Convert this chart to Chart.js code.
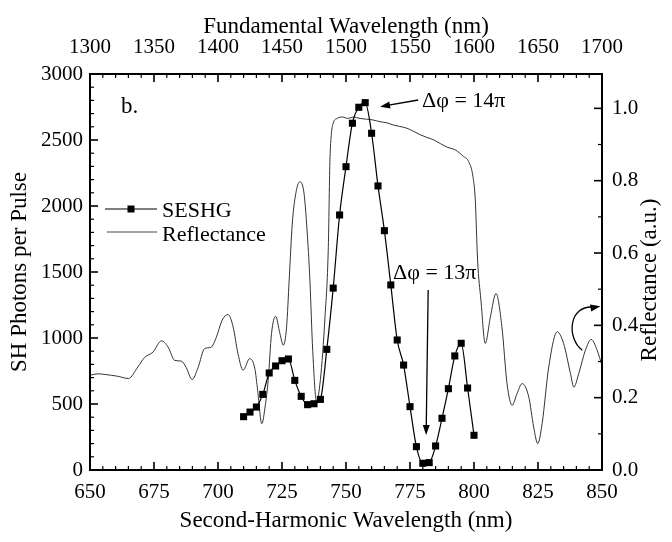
<!DOCTYPE html>
<html>
<head>
<meta charset="utf-8">
<script src="https://cdn.jsdelivr.net/npm/chart.js@4/dist/chart.umd.min.js"></script>
<style>
  html, body { margin: 0; padding: 0; background: #fff; }
  canvas { display: block; }
</style>
</head>
<body>
<canvas id="chart" width="672" height="542"></canvas>
<script>
// SESHG measurement (second-harmonic wavelength in nm, photons per pulse)
const shWavelength = [710, 712.5, 715, 717.5, 720, 722.5, 725, 727.5, 730, 732.5, 735, 737.5, 740,
  742.5, 745, 747.5, 750, 752.5, 755, 757.5, 760, 762.5, 765, 767.5, 770, 772.5, 775, 777.5,
  780, 782.5, 785, 787.5, 790, 792.5, 795, 797.5, 800];
const shPhotons = [404, 439, 477, 573, 735, 788, 828, 841, 679, 558, 495, 502, 535,
  914, 1378, 1932, 2298, 2627, 2748, 2783, 2551, 2152, 1813, 1402, 985, 795, 480, 177,
  51, 56, 182, 392, 616, 864, 960, 621, 263];

// mirror reflectance (a.u.)
const reflWavelength = [650, 653, 656, 661, 665, 668.7, 671.3, 674.6, 677.9, 680.5, 683.1, 685.7,
  687.6, 689.9, 692.2, 694.8, 697.2, 699.4, 701.6, 703.9, 705.9, 707.8, 709.8, 712.4, 714.4,
  715.5, 717.1, 718.5, 719.6, 720.9, 722.5, 724.2, 725.5, 726.8, 727.8, 729, 730.4, 732, 733.6,
  735, 735.9, 737, 738.5, 740, 741.8, 743.1, 743.7, 744.3, 745, 746.5, 748.9, 750.5, 752.9,
  755.5, 758.1, 760.5, 763.3, 766, 768.5, 771, 773.8, 776.5, 779, 781.5, 784.2, 787, 789.4,
  792.7, 795.9, 797.9, 799.6, 800.5, 801.4, 802.7, 804.4, 806.4, 808.6, 810.9, 812.9, 814.9,
  816.8, 818.8, 821.4, 823.3, 824.9, 826.6, 829.2, 832.5, 835, 837.7, 839, 840.9, 843.5,
  845.8, 848.1, 850];
const reflectance = [0.262, 0.266, 0.264, 0.259, 0.253, 0.285, 0.311, 0.326, 0.357, 0.340, 0.303, 0.301,
  0.283, 0.250, 0.283, 0.336, 0.339, 0.368, 0.414, 0.430, 0.396, 0.322, 0.276, 0.308, 0.280,
  0.220, 0.128, 0.180, 0.248, 0.377, 0.425, 0.377, 0.345, 0.396, 0.525, 0.680, 0.765, 0.797, 0.765,
  0.640, 0.525, 0.330, 0.190, 0.250, 0.423, 0.618, 0.850, 0.930, 0.959, 0.972, 0.976, 0.972, 0.976,
  0.972, 0.970, 0.968, 0.963, 0.960, 0.954, 0.950, 0.945, 0.936, 0.927, 0.920, 0.913, 0.902, 0.893,
  0.885, 0.867, 0.853, 0.811, 0.747, 0.580, 0.470, 0.350, 0.423, 0.488, 0.396, 0.239, 0.179,
  0.211, 0.239, 0.202, 0.119, 0.073, 0.128, 0.285, 0.382, 0.350, 0.266, 0.229, 0.266, 0.331,
  0.361, 0.331, 0.289];

const serif = "'Liberation Serif', 'Times New Roman', serif";

function arrow(ctx, x1, y1, x2, y2) {
  const ang = Math.atan2(y2 - y1, x2 - x1);
  ctx.beginPath();
  ctx.moveTo(x1, y1);
  ctx.lineTo(x2 - 6 * Math.cos(ang), y2 - 6 * Math.sin(ang));
  ctx.stroke();
  ctx.beginPath();
  ctx.moveTo(x2, y2);
  ctx.lineTo(x2 - 10 * Math.cos(ang) + 3.5 * Math.sin(ang), y2 - 10 * Math.sin(ang) - 3.5 * Math.cos(ang));
  ctx.lineTo(x2 - 10 * Math.cos(ang) - 3.5 * Math.sin(ang), y2 - 10 * Math.sin(ang) + 3.5 * Math.cos(ang));
  ctx.closePath();
  ctx.fill();
}

// frame with inward major / minor ticks on all four sides
const frameTicks = {
  id: 'frameTicks',
  afterDatasetsDraw(chart) {
    const { ctx, chartArea: a, scales } = chart;
    ctx.save();
    ctx.strokeStyle = '#000';
    const marks = (scale, minor, major, horizontal, edge, dir) => {
      for (let v = scale.min; v <= scale.max + 1e-9; v += minor) {
        const r = v / major;
        const isMajor = Math.abs(r - Math.round(r)) < 1e-6;
        const len = isMajor ? 8 : 4;
        const p = scale.getPixelForValue(v);
        ctx.lineWidth = isMajor ? 1.6 : 1.2;
        ctx.beginPath();
        if (horizontal) { ctx.moveTo(p, edge); ctx.lineTo(p, edge + dir * len); }
        else { ctx.moveTo(edge, p); ctx.lineTo(edge + dir * len, p); }
        ctx.stroke();
      }
    };
    marks(scales.x, 5, 25, true, a.bottom, -1);
    marks(scales.xTop, 10, 50, true, a.top, 1);
    marks(scales.y, 100, 500, false, a.left, 1);
    marks(scales.yR, 0.1, 0.2, false, a.right, -1);
    ctx.lineWidth = 2;
    ctx.strokeRect(a.left, a.top, a.right - a.left, a.bottom - a.top);
    ctx.restore();
  }
};

// panel letter, legend, right axis title and phase annotations
const notes = {
  id: 'notes',
  afterDraw(chart) {
    const { ctx, chartArea: a, scales } = chart;
    const x = scales.x, y = scales.y;
    ctx.save();
    ctx.fillStyle = '#000';
    ctx.strokeStyle = '#000';
    ctx.font = '23px ' + serif;
    ctx.textBaseline = 'alphabetic';
    ctx.fillText('b.', a.left + 31, a.top + 39);

    // right axis title, reading bottom to top like the left one
    ctx.save();
    ctx.font = '23px ' + serif;
    ctx.textAlign = 'center';
    ctx.textBaseline = 'middle';
    ctx.translate(650, (a.top + a.bottom) / 2 + 8);
    ctx.rotate(-Math.PI / 2);
    ctx.fillText('Reflectance (a.u.)', 0, 0);
    ctx.restore();

    // legend
    ctx.font = '22px ' + serif;
    ctx.textBaseline = 'middle';
    ctx.lineWidth = 1.2;
    ctx.beginPath();
    ctx.moveTo(a.left + 15, a.top + 135);
    ctx.lineTo(a.left + 67, a.top + 135);
    ctx.stroke();
    ctx.fillRect(a.left + 37.5, a.top + 131.5, 7, 7);
    ctx.fillText('SESHG', a.left + 72, a.top + 137);
    ctx.strokeStyle = '#444';
    ctx.lineWidth = 1;
    ctx.beginPath();
    ctx.moveTo(a.left + 17, a.top + 158);
    ctx.lineTo(a.left + 67, a.top + 158);
    ctx.stroke();
    ctx.fillText('Reflectance', a.left + 72, a.top + 161);

    // phase labels
    ctx.strokeStyle = '#000';
    ctx.lineWidth = 1.3;
    ctx.fillText('\u0394\u03c6 = 14\u03c0', x.getPixelForValue(779.7), y.getPixelForValue(2795));
    arrow(ctx, x.getPixelForValue(778.2), y.getPixelForValue(2803), x.getPixelForValue(763.3), y.getPixelForValue(2752));
    ctx.fillText('\u0394\u03c6 = 13\u03c0', x.getPixelForValue(768.4), y.getPixelForValue(1487));
    arrow(ctx, x.getPixelForValue(782.1), y.getPixelForValue(1364), x.getPixelForValue(781.3), y.getPixelForValue(265));

    // curved arrow pointing at the reflectance axis
    const r = scales.yR;
    const sx = x.getPixelForValue(842.3), sy = r.getPixelForValue(0.331);
    const ex = x.getPixelForValue(849.4), ey = r.getPixelForValue(0.453);
    ctx.beginPath();
    ctx.moveTo(sx, sy);
    ctx.bezierCurveTo(sx - 16, sy - 12, sx - 14, ey - 2, ex - 6, ey + 1);
    ctx.stroke();
    arrow(ctx, ex - 7, ey + 1.3, ex, ey);
    ctx.restore();
  }
};

Chart.defaults.font.family = serif;
Chart.defaults.color = '#000';

const noGrid = { display: false, drawTicks: false };
const plain = v => String(v);

new Chart(document.getElementById('chart'), {
  type: 'line',
  data: {
    datasets: [
      {
        label: 'Reflectance',
        data: reflWavelength.map((w, i) => ({ x: w, y: reflectance[i] })),
        xAxisID: 'x',
        yAxisID: 'yR',
        borderColor: '#333',
        borderWidth: 1,
        pointRadius: 0,
        cubicInterpolationMode: 'monotone',
        order: 2
      },
      {
        label: 'SESHG',
        data: shWavelength.map((w, i) => ({ x: w, y: shPhotons[i] })),
        xAxisID: 'x',
        yAxisID: 'y',
        borderColor: '#000',
        borderWidth: 1.2,
        pointStyle: 'rect',
        pointRadius: 5,
        pointBackgroundColor: '#000',
        pointBorderColor: '#000',
        pointBorderWidth: 0,
        cubicInterpolationMode: 'monotone',
        order: 1
      }
    ]
  },
  options: {
    responsive: false,
    animation: false,
    layout: { padding: 0 },
    plugins: { legend: { display: false }, tooltip: { enabled: false } },
    scales: {
      x: {
        type: 'linear', position: 'bottom', min: 650, max: 850,
        grid: noGrid, border: { display: false },
        ticks: { stepSize: 25, padding: 10, autoSkip: false, maxRotation: 0, font: { size: 21 }, callback: plain },
        title: { display: true, text: 'Second-Harmonic Wavelength (nm)', font: { size: 23 }, padding: { top: 0, bottom: 7 } },
        afterFit: s => { s.height = 72; }
      },
      xTop: {
        type: 'linear', position: 'top', min: 1300, max: 1700,
        grid: noGrid, border: { display: false },
        ticks: { stepSize: 50, padding: 14, autoSkip: false, maxRotation: 0, font: { size: 21 }, callback: plain },
        title: { display: true, text: 'Fundamental Wavelength (nm)', font: { size: 23 }, padding: { top: 13, bottom: 0 } },
        afterFit: s => { s.height = 74; }
      },
      y: {
        type: 'linear', position: 'left', min: 0, max: 3000,
        grid: noGrid, border: { display: false },
        ticks: { stepSize: 500, padding: 7, font: { size: 21 }, callback: plain },
        title: { display: true, text: 'SH Photons per Pulse', font: { size: 23 }, padding: { top: 6, bottom: 0 } },
        afterFit: s => { s.width = 90; }
      },
      yR: {
        type: 'linear', position: 'right', min: 0, max: 1.095,
        grid: noGrid, border: { display: false },
        ticks: { stepSize: 0.2, includeBounds: false, padding: 10, font: { size: 21 }, callback: v => v.toFixed(1) },
        title: { display: false },
        afterFit: s => { s.width = 70; }
      }
    }
  },
  plugins: [frameTicks, notes]
});
</script>
</body>
</html>
